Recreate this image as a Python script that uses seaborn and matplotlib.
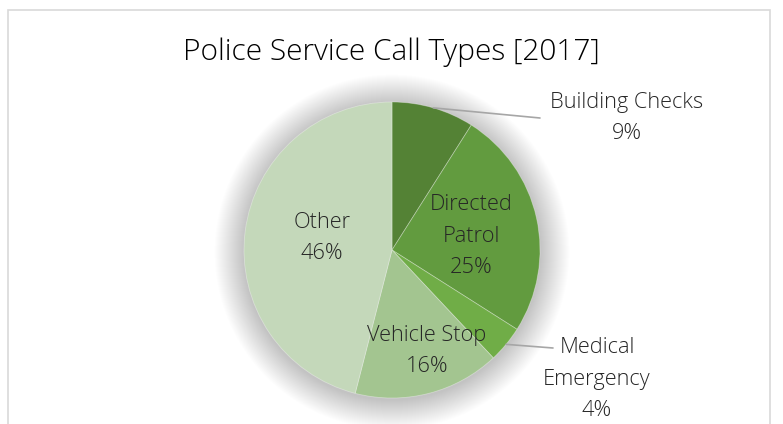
import numpy as np
import matplotlib
matplotlib.use("Agg")
import matplotlib.pyplot as plt
import seaborn as sns
from matplotlib.patches import Circle, Rectangle

sns.set_theme(style="white")
plt.rcParams['font.family'] = ['Open Sans', 'DejaVu Sans']

title = "Police Service Call Types [2017]"
categories = ["Building Checks", "Directed Patrol", "Medical Emergency", "Vehicle Stop", "Other"]
values = [9, 25, 4, 16, 46]
label_lines = ["Building Checks\n9%", "Directed\nPatrol\n25%", "Medical\nEmergency\n4%", "Vehicle Stop\n16%", "Other\n46%"]
colors = ["#548235", "#629B3F", "#70AD47", "#A3C590", "#C4D8BA"]

W, H = 783, 424
fig = plt.figure(figsize=(W / 100, H / 100), dpi=100)
ax = fig.add_axes([0, 0, 1, 1])

cx, cy, R = 392, H - 250, 148

# chart frame
ax.add_patch(Rectangle((8, -10), 762, H - 10 + 10, fill=False, edgecolor="#D9D9D9", lw=1.2))

# soft diffuse shadow
n = 60
for i in range(n):
    r = R * (1.2 - 0.2 * i / n)
    ax.add_patch(Circle((cx, cy - 2), r, color="black", alpha=0.0045, lw=0, zorder=1))

wedges, _ = ax.pie(values, colors=colors, startangle=90, counterclock=False,
                   center=(cx, cy), radius=R, frame=True,
                   wedgeprops=dict(linewidth=0.6, edgecolor=(1, 1, 1, 0.35)))
for w in wedges:
    w.set_zorder(2)
ax.set_xlim(0, W)
ax.set_ylim(0, H)
ax.set_aspect("equal")
ax.set_axis_off()

ax.text(W / 2, H - 52, title, ha="center", va="center", fontsize=21.5,
        color="#000000", fontweight="light")

txt_kw = dict(ha="center", va="center", fontsize=15.7, color="#262626",
              fontweight="light", linespacing=1.68, zorder=5)

inside_pos = {1: (471, 236), 3: (427, 351), 4: (322, 238)}
for i, (x, y) in inside_pos.items():
    ax.text(x, H - y, label_lines[i], **txt_kw)

outside = {0: ((627, 118), (540, 118)), 2: ((597, 379), (553, 348))}
for i, ((lx, ly), (ex, ey)) in outside.items():
    w = wedges[i]
    mid = np.deg2rad((w.theta1 + w.theta2) / 2)
    sx, sy = cx + R * np.cos(mid), cy + R * np.sin(mid)
    ax.plot([sx, ex], [sy, H - ey], color="#A6A6A6", lw=1.2, zorder=4)
    ax.text(lx, H - ly, label_lines[i], **txt_kw)

fig.savefig("out.png", dpi=100)
